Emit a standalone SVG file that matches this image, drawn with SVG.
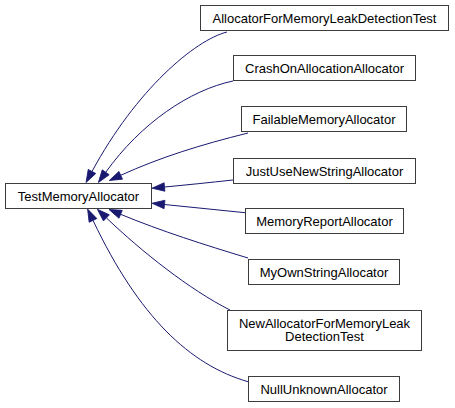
<svg xmlns="http://www.w3.org/2000/svg" width="455" height="408" viewBox="0 0 455 408">
<style>
.box{fill:#ffffff;stroke:#3c3c3c;stroke-width:1}
.lbl{font-family:"Liberation Sans",Arial,sans-serif;font-size:13px;fill:#000000;text-anchor:middle}
.edge{fill:none;stroke:#191970;stroke-width:1;marker-end:url(#arr)}
</style>
<defs>
<marker id="arr" markerUnits="userSpaceOnUse" markerWidth="13" markerHeight="9" refX="0" refY="4.25" orient="auto" overflow="visible">
<path d="M0,0 L12.5,4.25 L0,8.5 z" fill="#191970" stroke="#191970" stroke-width="0.8"/>
</marker>
</defs>
<g id="connectors">
<path class="edge" d="M227,32 C195,40 136,90 92,171.5"/>
<path class="edge" d="M233,81 C190,90 141,123 105.7,172.3"/>
<path class="edge" d="M248,133 C200,145 161,157 120.7,175.3"/>
<path class="edge" d="M233,180 C210,182.5 186,185 164.5,187"/>
<path class="edge" d="M245,212.7 L164.5,204.5"/>
<path class="edge" d="M248,258 C205,245 161,231 120.6,214.3"/>
<path class="edge" d="M230,310 C190,290 141,251 106.4,217.9"/>
<path class="edge" d="M248,381.7 C190,365 139,317 93,220.4"/>
</g>
<g id="TestMemoryAllocator">
<rect class="box" x="5.5" y="183.5" width="146" height="25"/>
<text class="lbl" x="78.5" y="200.5">TestMemoryAllocator</text>
</g>
<g id="AllocatorForMemoryLeakDetectionTest">
<rect class="box" x="200.5" y="5.5" width="248" height="25"/>
<text class="lbl" x="324.5" y="22.5">AllocatorForMemoryLeakDetectionTest</text>
</g>
<g id="CrashOnAllocationAllocator">
<rect class="box" x="233.5" y="55.5" width="182" height="25"/>
<text class="lbl" x="324.5" y="72.5">CrashOnAllocationAllocator</text>
</g>
<g id="FailableMemoryAllocator">
<rect class="box" x="241.5" y="106.5" width="165" height="25"/>
<text class="lbl" x="324" y="123.5">FailableMemoryAllocator</text>
</g>
<g id="JustUseNewStringAllocator">
<rect class="box" x="233.5" y="158.5" width="182" height="25"/>
<text class="lbl" x="324.5" y="175.5">JustUseNewStringAllocator</text>
</g>
<g id="MemoryReportAllocator">
<rect class="box" x="245.5" y="208.5" width="158" height="25"/>
<text class="lbl" x="324.5" y="225.5">MemoryReportAllocator</text>
</g>
<g id="MyOwnStringAllocator">
<rect class="box" x="248.5" y="259.5" width="151" height="25"/>
<text class="lbl" x="324" y="276.5">MyOwnStringAllocator</text>
</g>
<g id="NewAllocatorForMemoryLeakDetectionTest">
<rect class="box" x="227.5" y="310.5" width="194" height="40"/>
<text class="lbl" x="324.5" y="327.8">NewAllocatorForMemoryLeak</text>
<text class="lbl" x="324.5" y="341.3">DetectionTest</text>
</g>
<g id="NullUnknownAllocator">
<rect class="box" x="248.5" y="376.5" width="151" height="25"/>
<text class="lbl" x="324" y="393.8">NullUnknownAllocator</text>
</g>
</svg>
